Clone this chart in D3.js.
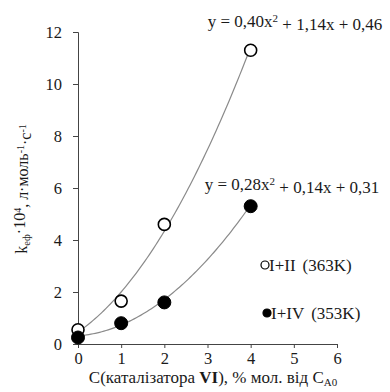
<!DOCTYPE html>
<html>
<head>
<meta charset="utf-8">
<script src="https://cdn.jsdelivr.net/npm/d3@7"></script>
<style>
  html, body { margin: 0; padding: 0; background: #fff; }
  svg text { font-family: "Liberation Serif", "Times New Roman", serif; fill: #1a1a1a; }
</style>
</head>
<body>
<svg id="chart" width="390" height="392"></svg>
<script>
// Catalyst concentration, % mol. of C_A0
const concentrations = [0, 1, 2, 4];
// Effective rate constant k·10^4 for each system
const seriesOpen = [0.55, 1.65, 4.6, 11.3];   // I+II (363K)
const seriesFilled = [0.25, 0.8, 1.6, 5.3];   // I+IV (353K)
// Quadratic trend coefficients [a, b, c] for y = a·x² + b·x + c
const fitOpen = [0.40, 1.14, 0.46];
const fitFilled = [0.28, 0.14, 0.31];
const xTicks = [0, 1, 2, 3, 4, 5, 6];
const yTicks = [0, 2, 4, 6, 8, 10, 12];

const svg = d3.select("#chart");
const x = d3.scaleLinear().domain([0, 6]).range([78, 337]);
const y = d3.scaleLinear().domain([0, 12]).range([344, 32]);

// Axes
const xAxis = svg.append("g").attr("transform", `translate(0,${y(0)})`)
  .call(d3.axisBottom(x).tickValues(xTicks).tickSize(4).tickPadding(2).tickFormat(d3.format("d")));
const yAxis = svg.append("g").attr("transform", `translate(${x(0)},0)`)
  .call(d3.axisLeft(y).tickValues(yTicks).tickSize(5).tickPadding(11).tickFormat(d3.format("d")));
[xAxis, yAxis].forEach(g => {
  g.attr("font-family", "Liberation Serif, serif");
  g.selectAll("path.domain").attr("stroke", "#444").attr("stroke-width", 1);
  g.selectAll(".tick line").attr("stroke", "#444");
  g.selectAll(".tick text").attr("font-family", "Liberation Serif, serif")
    .style("font-size", "16.5px").attr("fill", "#1a1a1a");
});
xAxis.selectAll(".tick text").attr("dy", "0.87em");

// Trend curves
const curveLine = d3.line().x(d => x(d[0])).y(d => y(d[1]));
function trend(coef) {
  return d3.range(0, 4.0001, 0.05).map(v => [v, coef[0] * v * v + coef[1] * v + coef[2]]);
}
[fitOpen, fitFilled].forEach(coef => {
  svg.append("path").datum(trend(coef)).attr("d", curveLine)
    .attr("fill", "none").attr("stroke", "#8a8a8a").attr("stroke-width", 1.2);
});

// Markers
svg.append("g").selectAll("circle").data(concentrations.map((c, i) => [c, seriesOpen[i]]))
  .join("circle").attr("cx", d => x(d[0])).attr("cy", d => y(d[1])).attr("r", 6)
  .attr("fill", "#fff").attr("stroke", "#000").attr("stroke-width", 1.6);
svg.append("g").selectAll("circle").data(concentrations.map((c, i) => [c, seriesFilled[i]]))
  .join("circle").attr("cx", d => x(d[0])).attr("cy", d => y(d[1])).attr("r", 6.5)
  .attr("fill", "#000").attr("stroke", "#000").attr("stroke-width", 1);

// Trend equations
function equation(xc, yc, a, b, c) {
  const t = svg.append("text").attr("x", xc).attr("y", yc).attr("text-anchor", "middle")
    .style("font-size", "17px");
  t.append("tspan").text(`y = ${a}x`);
  t.append("tspan").text("2").attr("dy", "-0.45em").style("font-size", "11px");
  t.append("tspan").text(` + ${b}x + ${c}`).attr("dy", "0.45em");
}
equation(295, 27, "0,40", "1,14", "0,46");
equation(292, 190, "0,28", "0,14", "0,31");

// Legend
const legend = [
  { name: "I+II", temp: "(363K)", fill: "#fff", yPos: 265, cx: 265 },
  { name: "I+IV", temp: "(353K)", fill: "#000", yPos: 313, cx: 267 }
];
legend.forEach(l => {
  svg.append("circle").attr("cx", l.cx).attr("cy", l.yPos).attr("r", 4)
    .attr("fill", l.fill).attr("stroke", "#000").attr("stroke-width", 1.2);
  const t = svg.append("text").attr("x", l.cx + 4).attr("y", l.yPos + 5.5).style("font-size", "17px");
  t.append("tspan").text(l.name);
  t.append("tspan").attr("dx", 7).text(l.temp);
});

// X axis title
const xt = svg.append("text").attr("x", 213).attr("y", 383).attr("text-anchor", "middle")
  .style("font-size", "17px");
xt.append("tspan").text("C(каталізатора ");
xt.append("tspan").text("VI").style("font-weight", "bold");
xt.append("tspan").text("), % мол. від C");
xt.append("tspan").text("A0").attr("dy", "0.3em").style("font-size", "11px");

// Y axis title
const yt = svg.append("text").attr("transform", "translate(27,189) rotate(-90)")
  .attr("text-anchor", "middle").style("font-size", "16px");
yt.append("tspan").text("k");
yt.append("tspan").text("еф").attr("dy", "0.3em").style("font-size", "10.5px");
yt.append("tspan").text("·10").attr("dy", "-0.3em");
yt.append("tspan").text("4").attr("dy", "-0.45em").style("font-size", "10px");
yt.append("tspan").text(", л·моль").attr("dy", "0.45em");
yt.append("tspan").text("-1").attr("dy", "-0.45em").style("font-size", "10px");
yt.append("tspan").text("·с").attr("dy", "0.45em");
yt.append("tspan").text("-1").attr("dy", "-0.45em").style("font-size", "10px");
</script>
</body>
</html>
